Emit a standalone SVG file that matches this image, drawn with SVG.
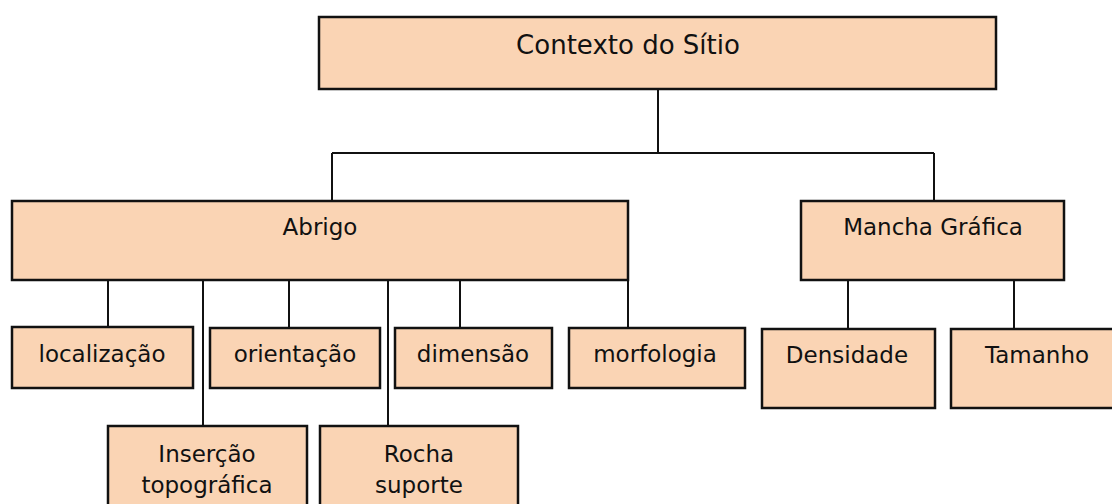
<svg xmlns="http://www.w3.org/2000/svg" width="1112" height="504" viewBox="0 0 1112 504">
<style>
.box{fill:#fad4b4;stroke:#111;stroke-width:2.5}
.t{font-family:"DejaVu Sans",Verdana,sans-serif;font-size:23px;fill:#111;text-anchor:middle}
.c{stroke:#111;stroke-width:2;fill:none}
</style>
<rect width="1112" height="504" fill="#fff"/>
<g id="connectors">
<path class="c" d="M658 89V153M332 153H934M332 153V201M934 153V201"/>
<path class="c" d="M108 280V327M203 280V426M289 280V327M388 280V426M460 280V327M628 280V327"/>
<path class="c" d="M848 280V329M1014 280V329"/>
</g>
<g id="contexto"><rect class="box" x="319" y="17" width="677" height="72"/><text class="t" x="628" y="54" style="font-size:26px">Contexto do Sítio</text></g>
<g id="abrigo"><rect class="box" x="12" y="201" width="616" height="79"/><text class="t" x="320" y="235">Abrigo</text></g>
<g id="mancha"><rect class="box" x="801" y="201" width="263" height="79"/><text class="t" x="933" y="235">Mancha Gráfica</text></g>
<g id="localizacao"><rect class="box" x="12" y="327" width="181" height="61"/><text class="t" x="102" y="362">localização</text></g>
<g id="orientacao"><rect class="box" x="210" y="328" width="170" height="60"/><text class="t" x="295" y="362">orientação</text></g>
<g id="dimensao"><rect class="box" x="395" y="328" width="157" height="60"/><text class="t" x="473" y="362">dimensão</text></g>
<g id="morfologia"><rect class="box" x="569" y="328" width="176" height="60"/><text class="t" x="655" y="362">morfologia</text></g>
<g id="densidade"><rect class="box" x="762" y="329" width="173" height="79"/><text class="t" x="847" y="363">Densidade</text></g>
<g id="tamanho"><rect class="box" x="951" y="329" width="175" height="79"/><text class="t" x="1037" y="363">Tamanho</text></g>
<g id="insercao"><rect class="box" x="108" y="426" width="199" height="90"/><text class="t" x="207" y="462">Inserção</text><text class="t" x="207" y="493">topográfica</text></g>
<g id="rocha"><rect class="box" x="320" y="426" width="198" height="90"/><text class="t" x="419" y="462">Rocha</text><text class="t" x="419" y="493">suporte</text></g>
</svg>
